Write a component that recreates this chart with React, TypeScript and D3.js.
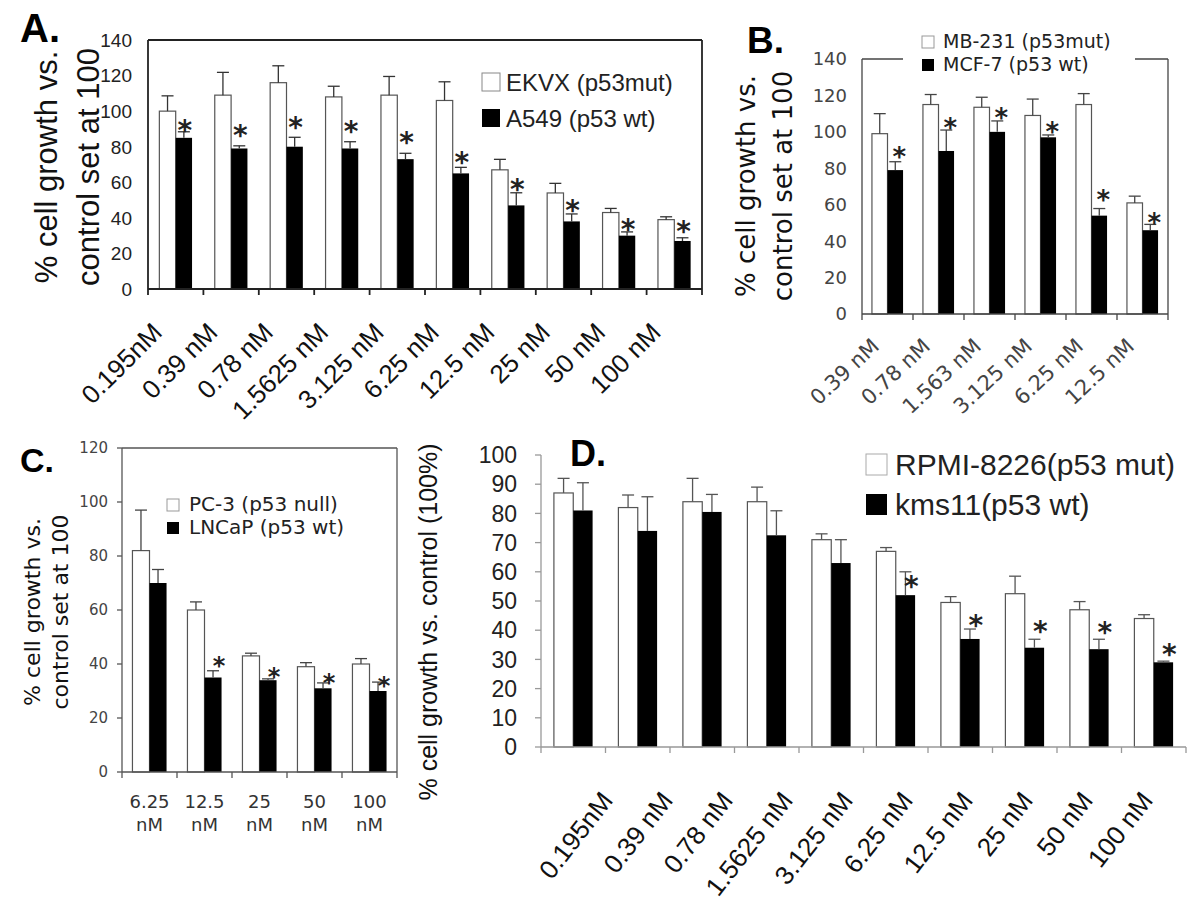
import React from "react";
import * as d3 from "d3";

// ---------- Panel A data ----------
const catsA = ["0.195nM", "0.39 nM", "0.78 nM", "1.5625 nM", "3.125 nM", "6.25 nM", "12.5 nM", "25 nM", "50 nM", "100 nM"];
const ekvx = [100, 109, 116, 108, 109, 106, 67, 54, 43, 39];
const ekvxErr = [8.6, 12.8, 9.5, 6, 10.5, 10.5, 5.9, 5.4, 2.3, 1.6];
const a549 = [85, 79, 80, 79, 73, 65, 47, 38, 30, 27];
const a549Err = [3.4, 1.5, 5.3, 3.8, 3.3, 3.4, 7.1, 4.2, 2.1, 1.8];
const starsA = [93, 90.5, 95, 92.7, 86.6, 75.3, 60.3, 48.3, 37.8, 36.4];
const yTicksA = [0, 20, 40, 60, 80, 100, 120, 140];
const legendA = ["EKVX (p53mut)", "A549 (p53 wt)"];

// ---------- Panel B data ----------
const catsB = ["0.39 nM", "0.78 nM", "1.563 nM", "3.125 nM", "6.25 nM", "12.5 nM"];
const mb231 = [99, 115, 113.5, 109, 115, 61];
const mb231Err = [11, 5.5, 5.5, 9, 6, 3.7];
const mcf7 = [79, 89.5, 100, 97, 54, 46];
const mcf7Err = [4.6, 11.5, 6, 1.3, 3.9, 3.2];
const starsB = [89.7, 106, 111.5, 103.8, 66.3, 53.8];
const yTicksB = [0, 20, 40, 60, 80, 100, 120, 140];
const legendB = ["MB-231 (p53mut)", "MCF-7 (p53 wt)"];

// ---------- Panel C data ----------
const catsC = [["6.25", "nM"], ["12.5", "nM"], ["25", "nM"], ["50", "nM"], ["100", "nM"]];
const pc3 = [82, 60, 43, 39, 40];
const pc3Err = [15, 3, 1, 1.5, 2];
const lncap = [70, 35, 34, 31, 30];
const lncapErr = [5, 2.5, 0.5, 2, 3.3];
const starsC = [null, 41.5, 37.4, 35.2, 34.4];
const yTicksC = [0, 20, 40, 60, 80, 100, 120];
const legendC = ["PC-3 (p53 null)", "LNCaP (p53 wt)"];

// ---------- Panel D data ----------
const catsD = ["0.195nM", "0.39 nM", "0.78 nM", "1.5625 nM", "3.125 nM", "6.25 nM", "12.5 nM", "25 nM", "50 nM", "100 nM"];
const rpmi = [87, 82, 84, 84, 71, 67, 49.5, 52.5, 47, 44];
const rpmiErr = [5, 4.3, 8, 5, 2, 1.3, 2, 6, 2.8, 1.3];
const kms11 = [81, 74, 80.5, 72.5, 63, 52, 37, 34, 33.5, 29];
const kms11Err = [9.5, 11.7, 6, 8.4, 8, 8, 3.4, 2.9, 3.4, 0.4];
const starsD = [null, null, null, null, null, 57.4, 44, 42.1, 41.8, 34.1];
const yTicksD = [0, 10, 20, 30, 40, 50, 60, 70, 80, 90, 100];
const legendD = ["RPMI-8226(p53 mut)", "kms11(p53 wt)"];

const ARIAL = "'Liberation Sans', Arial, sans-serif";
const VERD = "'DejaVu Sans', Verdana, sans-serif";

type PanelProps = {
  left: number; right: number; top: number; bottom: number; yMax: number;
  yTicks: number[]; cats: (string | string[])[];
  white: number[]; whiteErr: number[]; black: number[]; blackErr: number[];
  stars: (number | null)[]; starDx: number; starSize: number;
  pad: number; capW: number;
  frame: "box" | "axes"; frameColor: string; frameW: number;
  tickFont: string; tickSize: number; tickColor: string; tickGap: number; yTickLen: number;
  labelFont: string; labelSize: number; labelColor: string; labelMode: "rot" | "two";
  labelDx: number; labelDy: number; labelAngle?: number; labelSpan?: [number, number];
  barStroke: string; errColor: string;
};

function Panel(p: PanelProps) {
  const y = d3.scaleLinear().domain([0, p.yMax]).range([p.bottom, p.top]);
  const idx = p.cats.map((_, i) => String(i));
  const x = d3.scaleBand().domain(idx).range([p.left, p.right]).paddingInner(p.pad).paddingOuter(p.pad / 2);
  const inner = d3.scaleBand().domain(["w", "b"]).range([0, x.bandwidth()]);
  const step = x.step();
  const bw = inner.bandwidth();
  const yAxisTop = p.frame === "axes" ? y(p.yMax) : p.top;
  const lx = p.labelSpan ? d3.scalePoint().domain(idx).range(p.labelSpan) : null;
  const angle = p.labelAngle ?? -45;

  const errBar = (cx: number, v: number, e: number, key: string) => (
    <g key={key} stroke={p.errColor} strokeWidth={1.3}>
      <line x1={cx} x2={cx} y1={y(v)} y2={y(v + e)} />
      <line x1={cx - p.capW / 2} x2={cx + p.capW / 2} y1={y(v + e)} y2={y(v + e)} />
    </g>
  );

  return (
    <g>
      {idx.map((k, i) => {
        const gx = x(k)!;
        const wx = gx + inner("w")!;
        const bx = gx + inner("b")!;
        return (
          <g key={"bar" + i}>
            <rect x={wx} y={y(p.white[i])} width={bw} height={p.bottom - y(p.white[i])} fill="#fff" stroke={p.barStroke} strokeWidth={1.2} />
            <rect x={bx} y={y(p.black[i])} width={bw} height={p.bottom - y(p.black[i])} fill="#000" />
            {errBar(wx + bw / 2, p.white[i], p.whiteErr[i], "we" + i)}
            {errBar(bx + bw / 2, p.black[i], p.blackErr[i], "be" + i)}
            {p.stars[i] != null && (
              <text x={bx + bw / 2 + p.starDx} y={y(p.stars[i] as number) + p.starSize * 0.6} textAnchor="middle"
                fontFamily={VERD} fontWeight="bold" fontSize={p.starSize} fill="#222">*</text>
            )}
          </g>
        );
      })}
      <g stroke={p.frameColor} strokeWidth={p.frameW} fill="none">
        <line x1={p.left} x2={p.left} y1={yAxisTop} y2={p.bottom} />
        <line x1={p.left} x2={p.right} y1={p.bottom} y2={p.bottom} />
        {p.frame === "box" && <line x1={p.left} x2={p.right} y1={p.top} y2={p.top} />}
        {p.frame === "box" && <line x1={p.right} x2={p.right} y1={p.top} y2={p.bottom} />}
        {d3.range(p.cats.length + 1).map((i) => (
          <line key={"xt" + i} x1={p.left + i * step} x2={p.left + i * step} y1={p.bottom} y2={p.bottom + 6} />
        ))}
        {p.yTickLen > 0 && p.yTicks.map((t) => (
          <line key={"yt" + t} x1={p.left - p.yTickLen} x2={p.left} y1={y(t)} y2={y(t)} />
        ))}
      </g>
      {p.yTicks.map((t) => (
        <text key={"yl" + t} x={p.left - p.tickGap} y={y(t) + p.tickSize * 0.36} textAnchor="end"
          fontFamily={p.tickFont} fontSize={p.tickSize} fill={p.tickColor}>{t}</text>
      ))}
      {p.cats.map((c, i) => {
        const cx = x(String(i))! + x.bandwidth() / 2;
        if (p.labelMode === "two") {
          const parts = c as string[];
          return (
            <text key={"xl" + i} textAnchor="middle" fontFamily={p.labelFont} fontSize={p.labelSize} fill={p.labelColor}>
              <tspan x={cx} y={p.bottom + p.labelDy}>{parts[0]}</tspan>
              <tspan x={cx} y={p.bottom + p.labelDy + p.labelSize * 1.25}>{parts[1]}</tspan>
            </text>
          );
        }
        const ax = (lx ? lx(String(i))! : cx + p.labelDx);
        const ay = p.bottom + p.labelDy;
        return (
          <text key={"xl" + i} x={ax} y={ay} textAnchor="end" transform={`rotate(${angle}, ${ax}, ${ay})`}
            fontFamily={p.labelFont} fontSize={p.labelSize} fill={p.labelColor}>{c as string}</text>
        );
      })}
    </g>
  );
}

function Legend({ x, y1, y2, box, gapX, font, size, labels, stroke }: { x: number; y1: number; y2: number; box: number; gapX: number; font: string; size: number; labels: string[]; stroke: string }) {
  return (
    <g>
      <rect x={x} y={y1 - box} width={box} height={box} fill="#fff" stroke={stroke} strokeWidth={1} />
      <text x={x + box + gapX} y={y1} fontFamily={font} fontSize={size} fill="#222">{labels[0]}</text>
      <rect x={x} y={y2 - box} width={box} height={box} fill="#000" />
      <text x={x + box + gapX} y={y2} fontFamily={font} fontSize={size} fill="#222">{labels[1]}</text>
    </g>
  );
}

function YTitle({ x, y, lines, font, size, gap }: { x: number; y: number; lines: string[]; font: string; size: number; gap: number }) {
  return (
    <g>
      {lines.map((l, i) => (
        <text key={i} transform={`translate(${x + i * gap}, ${y}) rotate(-90)`} textAnchor="middle"
          fontFamily={font} fontSize={size} fill="#111">{l}</text>
      ))}
    </g>
  );
}

export default function App() {
  return (
    <svg width={1200} height={904} viewBox="0 0 1200 904" style={{ position: "absolute", left: 0, top: 0, background: "#fff" }}>
      <rect x={0} y={0} width={1200} height={904} fill="#fff" />

      {/* Panel A */}
      <text x={20} y={42} fontFamily={ARIAL} fontWeight="bold" fontSize={40} fill="#000">A.</text>
      <YTitle x={57} y={167} lines={["% cell growth vs.", "control set at 100"]} font={ARIAL} size={31} gap={42} />
      <Panel left={148} right={702} top={40} bottom={289} yMax={140} yTicks={yTicksA} cats={catsA}
        white={ekvx} whiteErr={ekvxErr} black={a549} blackErr={a549Err} stars={starsA} starDx={1} starSize={28}
        pad={0.41} capW={12} frame="box" frameColor="#222" frameW={1.8}
        tickFont={ARIAL} tickSize={19} tickColor="#222" tickGap={16} yTickLen={0}
        labelFont={ARIAL} labelSize={26} labelColor="#111" labelMode="rot" labelDx={-12} labelDy={45} labelAngle={-45}
        barStroke="#555" errColor="#333" />
      <Legend x={482} y1={91} y2={127} box={18} gapX={6} font={ARIAL} size={24} labels={legendA} stroke="#888" />

      {/* Panel B */}
      <text x={747} y={53} fontFamily={ARIAL} fontWeight="bold" fontSize={37} fill="#000">B.</text>
      <YTitle x={755} y={186} lines={["% cell growth vs.", "control set at 100"]} font={VERD} size={26} gap={37} />
      <Panel left={862} right={1168} top={59} bottom={314} yMax={140} yTicks={yTicksB} cats={catsB}
        white={mb231} whiteErr={mb231Err} black={mcf7} blackErr={mcf7Err} stars={starsB} starDx={4} starSize={26}
        pad={0.39} capW={12} frame="box" frameColor="#444" frameW={1.3}
        tickFont={VERD} tickSize={18} tickColor="#444" tickGap={15} yTickLen={0}
        labelFont={VERD} labelSize={21} labelColor="#444" labelMode="rot" labelDx={-7} labelDy={34} labelAngle={-43}
        barStroke="#555" errColor="#444" />
      <rect x={903} y={28} width={232} height={48} fill="#fff" />
      <Legend x={922} y1={48} y2={71} box={12} gapX={9} font={VERD} size={19} labels={legendB} stroke="#999" />

      {/* Panel C */}
      <text x={20} y={472} fontFamily={ARIAL} fontWeight="bold" fontSize={34} fill="#000">C.</text>
      <YTitle x={40} y={612} lines={["% cell growth vs.", "control set at 100"]} font={VERD} size={22} gap={28} />
      <Panel left={122} right={397} top={448} bottom={772} yMax={120} yTicks={yTicksC} cats={catsC}
        white={pc3} whiteErr={pc3Err} black={lncap} blackErr={lncapErr} stars={starsC} starDx={6} starSize={24}
        pad={0.38} capW={12} frame="box" frameColor="#555" frameW={1.3}
        tickFont={VERD} tickSize={15} tickColor="#444" tickGap={14} yTickLen={5}
        labelFont={VERD} labelSize={18} labelColor="#333" labelMode="two" labelDx={0} labelDy={36}
        barStroke="#555" errColor="#444" />
      <Legend x={167} y1={511} y2={534} box={12} gapX={10} font={VERD} size={20} labels={legendC} stroke="#999" />

      {/* Panel D */}
      <text x={570} y={466} fontFamily={ARIAL} fontWeight="bold" fontSize={36} fill="#000">D.</text>
      <YTitle x={437} y={622} lines={["% cell growth vs. control (100%)"]} font={ARIAL} size={25} gap={0} />
      <Panel left={541} right={1186} top={455} bottom={747} yMax={100} yTicks={yTicksD} cats={catsD}
        white={rpmi} whiteErr={rpmiErr} black={kms11} blackErr={kms11Err} stars={starsD} starDx={6} starSize={28}
        pad={0.4} capW={12} frame="axes" frameColor="#999" frameW={1.3}
        tickFont={ARIAL} tickSize={23} tickColor="#222" tickGap={24} yTickLen={6}
        labelFont={ARIAL} labelSize={26} labelColor="#111" labelMode="rot" labelDx={-8} labelDy={54} labelAngle={-52}
        labelSpan={[614, 1154]}
        barStroke="#555" errColor="#555" />
      <Legend x={866} y1={475} y2={515} box={21} gapX={8} font={ARIAL} size={30} labels={legendD} stroke="#aaa" />
    </svg>
  );
}
